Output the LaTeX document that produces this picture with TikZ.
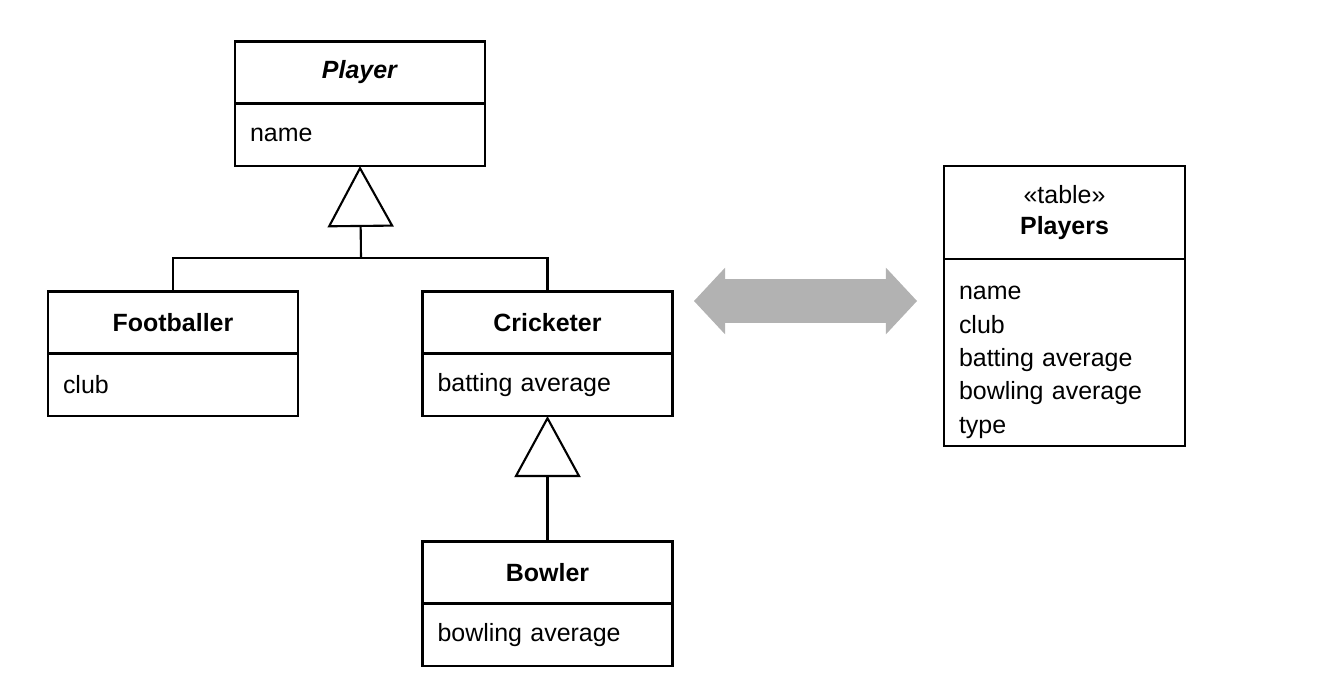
\documentclass[tikz,border=0pt]{standalone}
\usepackage{fontspec}
\setmainfont{Liberation Sans}
\usetikzlibrary{positioning,arrows.meta,shapes.arrows}

\tikzset{
    classtitle/.style={draw, line width=1.2pt, minimum width=5cm, minimum height=1.24cm,
        inner sep=0pt, outer sep=0pt, align=center, font=\bfseries},
    classattr/.style={draw, line width=1.2pt, text width=4.4cm, inner xsep=0.3cm,
        inner ysep=0pt, minimum height=1.25cm, outer sep=0pt, align=left},
    inherit/.style={line width=1.2pt, -{Triangle[open, length=1.22cm, width=1.32cm]}},
}

\begin{document}
\fontsize{14.2}{19}\selectfont
\begin{tikzpicture}
    \useasboundingbox (0, 0) rectangle (26.4, -13.88);
    \node[classtitle] (player) at (7.2, -1.45) {\textit{Player}};
    \node[classattr, below=0pt of player] (playerattr) {name};
    \node[classtitle] (footballer) at (3.46, -6.45) {Footballer};
    \node[classattr, below=0pt of footballer] (footballerattr) {club};
    \node[classtitle] (cricketer) at (10.95, -6.45) {Cricketer};
    \node[classattr, below=0pt of cricketer] (cricketerattr) {batting average};
    \node[classtitle] (bowler) at (10.95, -11.45) {Bowler};
    \node[classattr, below=0pt of bowler] (bowlerattr) {bowling average};
    \coordinate (bar) at (7.22, -5.16);
    \draw[line width=1.2pt] (footballer.north) -- (footballer.north |- bar)
        -- (cricketer.north |- bar) -- (cricketer.north);
    \draw[inherit] (bar) -- (playerattr.south);
    \draw[inherit] (bowler.north) -- (cricketerattr.south);
    \node[double arrow, fill=gray!60, inner xsep=0pt, inner ysep=0.43cm, minimum height=4.46cm,
        minimum width=1.32cm, double arrow head extend=0.23cm,
        double arrow tip angle=94] (mapping) at (16.11, -6.02) {};
    \node[classtitle, minimum width=4.82cm, minimum height=1.86cm] (players) at (21.29, -4.25)
        {{\mdseries «table»}\\[-1.4pt]Players};
    \node[classattr, text width=4.22cm, minimum height=3.74cm, below=0pt of players] (playersattr)
        {\rule{0pt}{0.66cm}name\\club\\batting average\\bowling average\\type};
\end{tikzpicture}
\end{document}
